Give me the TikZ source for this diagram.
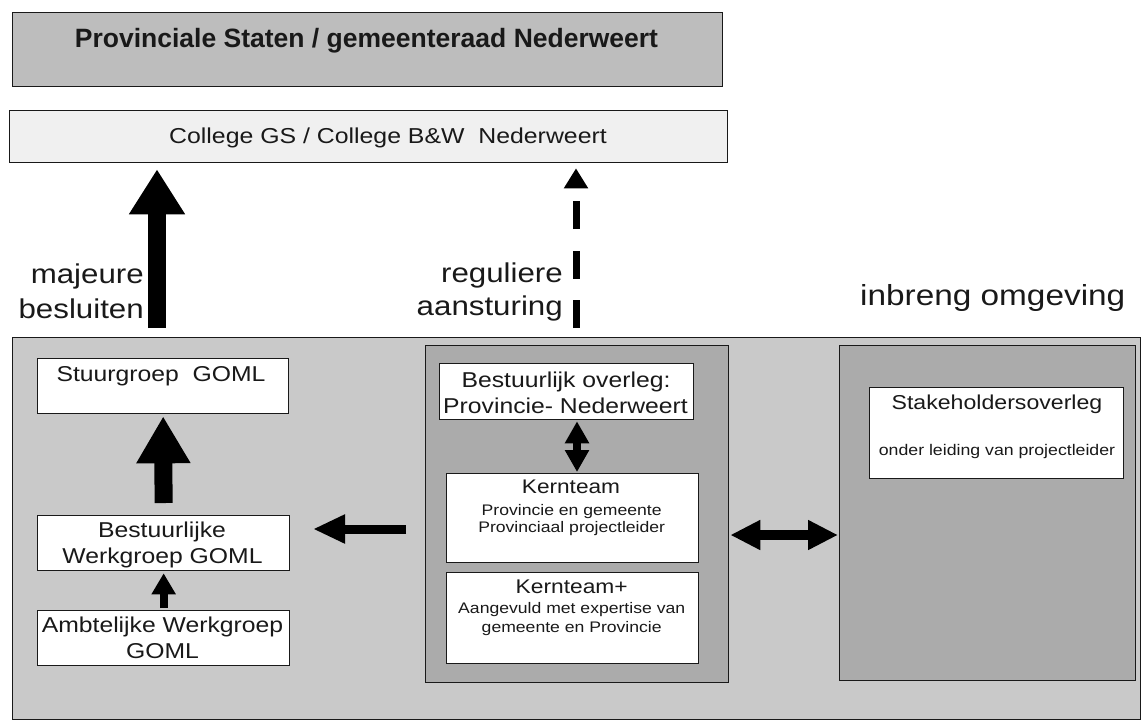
\documentclass[tikz,border=0pt]{standalone}
\usepackage{fontspec}
\setmainfont{Liberation Sans}
\newfontfamily\wide{Liberation Sans}[FakeStretch=1.15]
\usetikzlibrary{arrows.meta}
\newcommand\fsz[1]{\fontsize{#1}{#1}\selectfont}
\definecolor{gTop}{gray}{0.74}
\definecolor{gCol}{gray}{0.94}
\definecolor{gOut}{gray}{0.79}
\definecolor{gPan}{gray}{0.67}
\definecolor{ink}{gray}{0.1}
\tikzset{
  box/.style={draw=ink, line width=1.3pt, inner sep=0pt, anchor=north west},
  wbox/.style={box, fill=white},
  txt/.style={inner sep=0pt, text=ink, font=\wide},
  blk/.style={draw=black, line cap=butt},
}
\begin{document}
\begin{tikzpicture}[x=1pt,y=-1pt]
\useasboundingbox (0,0) rectangle (1141,724);
% top boxes
\node[box, fill=gTop, minimum width=710pt, minimum height=74pt] (ps) at (12,12) {};
\node[txt, font=\bfseries\fsz{26.5}, anchor=base] (pst) at (366.5,47) {Provinciale Staten / gemeenteraad Nederweert};
\node[box, fill=gCol, minimum width=718pt, minimum height=52pt] (college) at (9,110) {};
\node[txt, anchor=base] (colt) at (388,143) {\fsz{21.6}College GS / College B\&W\ \ Nederweert};
% labels
\node[txt, anchor=base east] (maj1) at (144,283) {\fsz{27.2}majeure};
\node[txt, anchor=base east] (maj2) at (144,318) {\fsz{27.2}besluiten};
\node[txt, anchor=base east] (reg1) at (563,282) {\fsz{27.2}reguliere};
\node[txt, anchor=base east] (reg2) at (563,315) {\fsz{27.2}aansturing};
\node[txt, anchor=base west] (inb) at (860,305) {\fsz{29}inbreng omgeving};
% big background
\node[box, fill=gOut, minimum width=1128pt, minimum height=382pt] (outer) at (12,337) {};
\node[box, fill=gPan, minimum width=303pt, minimum height=337pt] (mid) at (425,345) {};
\node[box, fill=gPan, minimum width=296pt, minimum height=335pt] (right) at (839,345) {};
% left column
\node[wbox, minimum width=251pt, minimum height=55pt] (stuur) at (37,358) {};
\node[txt, anchor=base] (stuurt) at (161,381) {\fsz{21.5}Stuurgroep\ \ GOML};
\node[wbox, minimum width=252pt, minimum height=55pt] (bwg) at (37,515) {};
\node[txt, anchor=base] (bwgt1) at (162,537) {\fsz{21.5}Bestuurlijke};
\node[txt, anchor=base] (bwgt2) at (162.5,563) {\fsz{21.5}Werkgroep GOML};
\node[wbox, minimum width=252pt, minimum height=55pt] (awg) at (37,610) {};
\node[txt, anchor=base] (awgt1) at (162.5,632) {\fsz{21.5}Ambtelijke Werkgroep};
\node[txt, anchor=base] (awgt2) at (162.5,658) {\fsz{21.5}GOML};
% middle column
\node[wbox, minimum width=254pt, minimum height=56pt] (bo) at (439,363) {};
\node[txt, anchor=base] (bot1) at (566,387) {\fsz{21.5}Bestuurlijk overleg:};
\node[txt, anchor=base] (bot2) at (565.5,413) {\fsz{21.5}Provincie- Nederweert};
\node[wbox, minimum width=252pt, minimum height=89pt] (kern) at (446,473) {};
\node[txt, anchor=base] (kt1) at (571,493) {\fsz{19.7}Kernteam};
\node[txt, anchor=base] (kt2) at (571.7,515) {\fsz{15.3}Provincie en gemeente};
\node[txt, anchor=base] (kt3) at (571.7,532) {\fsz{15.3}Provinciaal projectleider};
\node[wbox, minimum width=252pt, minimum height=91pt] (kernp) at (446,572) {};
\node[txt, anchor=base] (kp1) at (571.7,593) {\fsz{19.8}Kernteam+};
\node[txt, anchor=base] (kp2) at (571.7,613) {\fsz{15.3}Aangevuld met expertise van};
\node[txt, anchor=base] (kp3) at (571.7,632) {\fsz{15.3}gemeente en Provincie};
% right column
\node[wbox, minimum width=254pt, minimum height=91pt] (stake) at (869,387) {};
\node[txt, anchor=base] (st1) at (997,409) {\fsz{20.1}Stakeholdersoverleg};
\node[txt, anchor=base] (st2) at (997,455) {\fsz{15.4}onder leiding van projectleider};
% arrows
\coordinate (bigx) at (157,328);
\draw[blk, line width=18pt, -{Triangle[width=53pt,length=45pt]}, shorten >=6pt]
  (bigx) -- (bigx |- college.south);
\coordinate (dashx) at (576,328);
\draw[blk, line width=7pt, dash pattern=on 28pt off 21.5pt, -{Triangle[width=23pt,length=20pt]}, shorten >=5pt]
  (dashx) -- (dashx |- college.south);
\draw[blk, line width=18pt, -{Triangle[width=51pt,length=47pt]}, shorten <=12pt, shorten >=2pt]
  (bwg.north) -- (stuur.south);
\draw[blk, line width=8pt, -{Triangle[width=23pt,length=21pt]}, shorten <=2pt, shorten >=2pt]
  (awg.north) -- (bwg.south);
\coordinate (la) at (406,529);
\coordinate (lb) at (313,529);
\draw[blk, line width=9pt, -{Triangle[width=27pt,length=32pt]}] (la) -- (lb);
\coordinate (vd) at (577,0);
\draw[blk, line width=8pt, {Triangle[width=23pt,length=22pt]}-{Triangle[width=23pt,length=22pt]}, shorten <=1pt, shorten >=1pt]
  (vd |- bo.south) -- (vd |- kern.north);
\coordinate (hd) at (0,535);
\draw[blk, line width=10pt, {Triangle[width=28pt,length=30pt]}-{Triangle[width=28pt,length=30pt]}, shorten <=1pt, shorten >=1pt]
  (mid.east |- hd) -- (right.west |- hd);
\end{tikzpicture}
\end{document}
